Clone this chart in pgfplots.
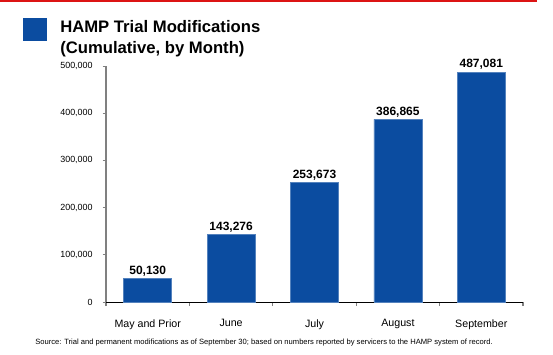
\documentclass[border=0pt]{standalone}
\usepackage{fontspec}
\setmainfont{Liberation Sans}
\usepackage{pgfplots}
\pgfplotsset{compat=1.18}
\definecolor{barblue}{RGB}{11,76,160}
\definecolor{topred}{RGB}{220,20,20}
\begin{document}
\begin{tikzpicture}
\useasboundingbox (0,0) rectangle (414.75pt,265.5pt);
\draw[topred, line width=1.6pt] (0,265pt) -- (402.75pt,265pt);
\fill[barblue] (17.25pt,234.75pt) rectangle (35.25pt,252pt);
\node[anchor=base west, font=\fontsize{12.5pt}{14pt}\selectfont\bfseries, inner sep=0pt] at (45pt,240.75pt) {HAMP Trial Modifications};
\node[anchor=base west, font=\fontsize{12.5pt}{14pt}\selectfont\bfseries, inner sep=0pt] at (45pt,225pt) {(Cumulative, by Month)};
\node[anchor=center, font=\fontsize{5.7pt}{6.5pt}\selectfont, inner sep=0pt] at (198pt,8.25pt) {Source: Trial and permanent modifications as of September 30; based on numbers reported by servicers to the HAMP system of record.};
\begin{axis}[
  at={(79.5pt,39pt)}, anchor=south west,
  scale only axis, width=312.75pt, height=177pt,
  ybar, bar width=36pt,
  xmin=-0.5, xmax=4.5, ymin=0, ymax=500000,
  axis x line*=bottom, axis y line*=left,
  x axis line style={-, black, line width=0.6pt},
  y axis line style={-, gray, line width=1.6pt},
  xtick={0,1,2,3,4},
  xticklabels={May and Prior, June, July, August, September},
  major x tick style={draw=none},
  minor xtick={-0.5,0.5,1.5,2.5,3.5,4.5},
  minor x tick style={gray, line width=0.8pt},
  minor tick length=3pt,
  ytick={0,100000,200000,300000,400000,500000},
  major y tick style={gray, line width=0.6pt},
  major tick length=2.5pt,
  tick align=outside,
  scaled y ticks=false,
  /pgf/number format/assume math mode=true,
  yticklabel style={/pgf/number format/fixed, /pgf/number format/1000 sep={,}, font=\fontsize{6.7pt}{8pt}\selectfont, xshift=-4pt},
  xticklabel style={font=\fontsize{8pt}{9.5pt}\selectfont, yshift=-7pt},
  nodes near coords,
  nodes near coords style={/pgf/number format/fixed, /pgf/number format/1000 sep={,}, font=\fontsize{9pt}{10pt}\selectfont\bfseries, inner sep=1.5pt},
  axis background/.style={fill=none},
  clip=false,
]
\addplot[fill=barblue, draw=barblue!70!white, line width=0.4pt] coordinates {(0,50130) (1,143276) (2,253673) (3,386865) (4,487081)};
\end{axis}
\end{tikzpicture}
\end{document}
